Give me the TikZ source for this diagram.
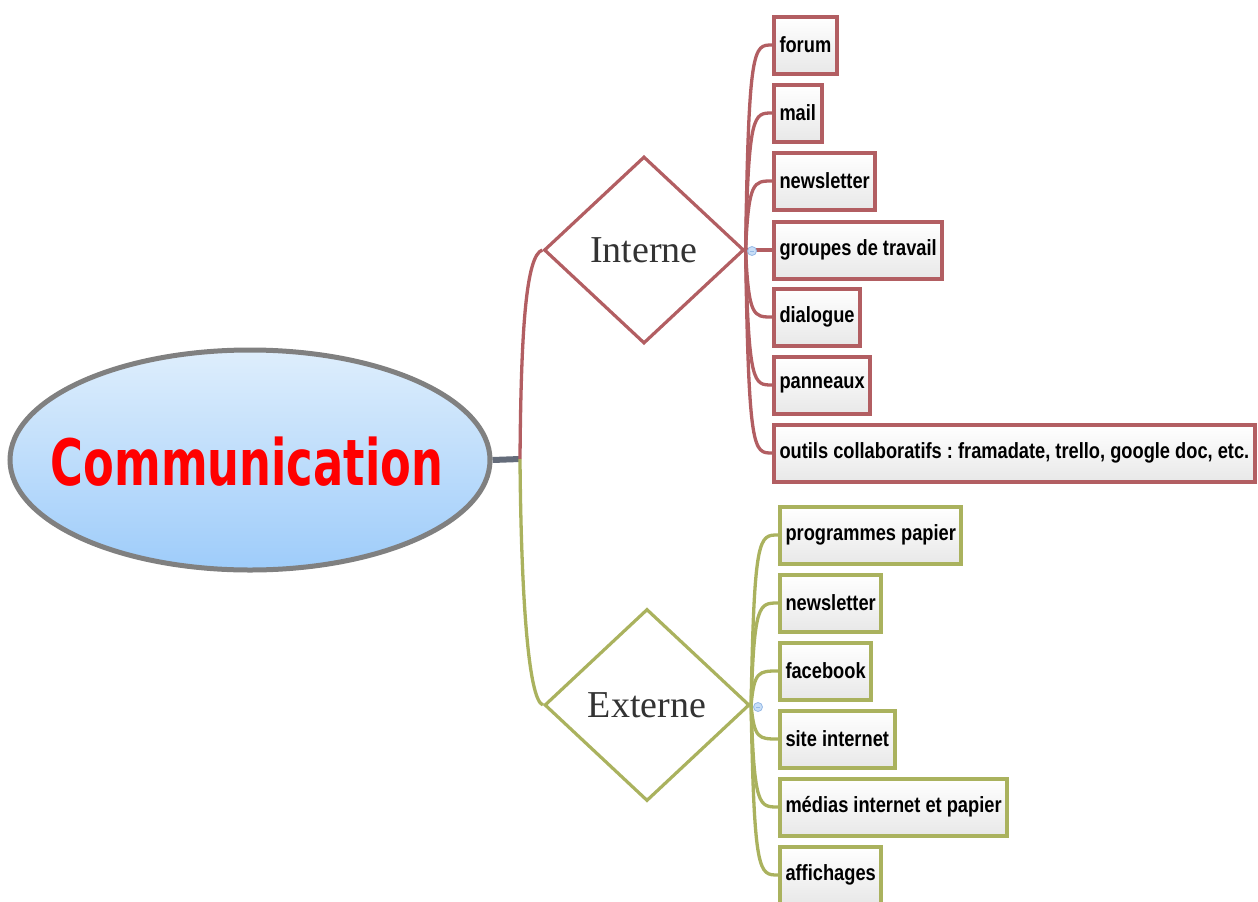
\documentclass[tikz,border=0pt]{standalone}
\usepackage{fontspec}
\usetikzlibrary{shapes.geometric,backgrounds,calc}
\newfontfamily\boxfont[FakeStretch=0.83]{Liberation Sans}
\newfontfamily\rootfont[FakeStretch=0.7]{DejaVu Sans}
\newfontfamily\diafont{Liberation Serif}
\definecolor{intc}{RGB}{178,94,98}
\definecolor{extc}{RGB}{170,178,94}
\definecolor{rootline}{RGB}{128,128,128}
\definecolor{stubc}{RGB}{100,108,122}
\definecolor{roottop}{RGB}{222,238,252}
\definecolor{rootbot}{RGB}{158,204,250}
\definecolor{markfill}{RGB}{200,222,246}
\definecolor{markline}{RGB}{150,185,230}
\frenchspacing
\tikzset{
  leaf/.style={rectangle, line width=4pt, minimum height=57pt, inner xsep=5.5pt,
    anchor=west, top color=white, bottom color=black!9,
    font=\boxfont\bfseries\fontsize{22}{26}\selectfont\frenchspacing, text=black},
  intleaf/.style={leaf, draw=intc},
  extleaf/.style={leaf, draw=extc},
  dia/.style={diamond, line width=3.2pt, inner sep=0pt,
    font=\diafont\fontsize{38}{40}\selectfont, text=black!80},
  intlink/.style={draw=intc, line width=3.3pt},
  extlink/.style={draw=extc, line width=3.3pt},
  marker/.style={circle, draw=markline, fill=markfill, line width=0.8pt, inner sep=0pt, minimum size=9pt}
}
\begin{document}
\begin{tikzpicture}[x=1pt,y=-1pt]
\useasboundingbox (0,0) rectangle (1258,902);
% root
\node[ellipse, draw=rootline, line width=5pt, minimum width=480pt, minimum height=220pt,
  inner sep=0pt, top color=roottop, bottom color=rootbot] (root) at (250,460) {};
\node[text=red, inner sep=0pt, font=\rootfont\bfseries\fontsize{64}{70}\selectfont]
  (roottext) at (247,462) {Communication};
\coordinate (hub) at (520,459);
% diamonds
\node[dia, draw=intc, minimum width=200pt, minimum height=187pt] (int) at (644,250) {Interne};
\node[dia, draw=extc, minimum width=205pt, minimum height=192pt] (ext) at (647,705) {Externe};
% interne leaves
\node[intleaf] (i1) at (772,45) {forum};
\node[intleaf] (i2) at (772,113) {mail};
\node[intleaf] (i3) at (772,181) {newsletter};
\node[intleaf] (i4) at (772,250) {groupes de travail};
\node[intleaf] (i5) at (772,317) {dialogue};
\node[intleaf] (i6) at (772,385) {panneaux};
\node[intleaf] (i7) at (772,453) {outils collaboratifs : framadate, trello, google doc, etc.};
% externe leaves
\node[extleaf] (e1) at (778,535) {programmes papier};
\node[extleaf] (e2) at (778,603) {newsletter};
\node[extleaf] (e3) at (778,671) {facebook};
\node[extleaf] (e4) at (778,739) {site internet};
\node[extleaf] (e5) at (778,807) {médias internet et papier};
\node[extleaf] (e6) at (778,875) {affichages};
% connectors
\begin{scope}[on background layer]
\draw[draw=stubc, line width=6pt] (root.east) -- (hub);
\draw[intlink] (hub) .. controls (521,330) and (526,255) .. (int.west);
\draw[extlink] (hub) .. controls (521,590) and (528,700) .. (ext.west);
\foreach \lf in {i1,i2,i3,i4,i5,i6,i7}{
  \draw[intlink] let \p1=(int.east), \p2=(\lf.west) in
    (int.east) .. controls (\x1+3pt,\y2) and (\x1+8pt,\y2) .. (\lf.west);
}
\foreach \lf in {e1,e2,e3,e4,e5,e6}{
  \draw[extlink] let \p1=(ext.east), \p2=(\lf.west) in
    (ext.east) .. controls (\x1+3pt,\y2) and (\x1+8pt,\y2) .. (\lf.west);
}
\end{scope}
% collapse markers
\node[marker] (im) at (752,251) {};
\draw[markline, line width=0.8pt] ([xshift=-2.2pt]im.center) -- ([xshift=2.2pt]im.center);
\node[marker] (em) at (758,707) {};
\draw[markline, line width=0.8pt] ([xshift=-2.2pt]em.center) -- ([xshift=2.2pt]em.center);
\end{tikzpicture}
\end{document}
